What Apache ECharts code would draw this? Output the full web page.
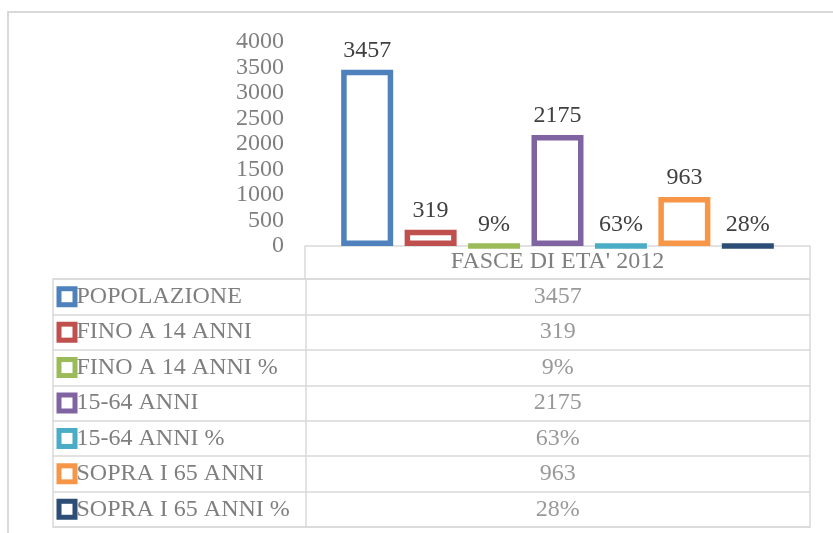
<!DOCTYPE html>
<html>
<head>
<meta charset="utf-8">
<script src="https://cdn.jsdelivr.net/npm/echarts@6/dist/echarts.min.js"></script>
<style>
html,body{margin:0;padding:0;background:#fff;}
#c{width:833px;height:533px;}
</style>
</head>
<body>
<div id="c"></div>
<script>
const category = ["FASCE DI ETA' 2012"];
const seriesNames = ['POPOLAZIONE','FINO A 14 ANNI','FINO A 14 ANNI %','15-64 ANNI','15-64 ANNI %','SOPRA I 65 ANNI','SOPRA I 65 ANNI %'];
const seriesValues = [3457, 319, 0.09, 2175, 0.63, 963, 0.28];
const isPercent = [false, false, true, false, true, false, true];
const colors = ['#4F81BD','#C0504D','#9BBB59','#8064A2','#4BACC6','#F79646','#2C4D75'];
const yTicks = {min: 0, max: 4000, interval: 500};

const FONT = 'Liberation Serif';
const FS = 24;
const fmt = (i) => isPercent[i] ? Math.round(seriesValues[i] * 100) + '%' : String(seriesValues[i]);

const barSeries = seriesNames.map((name, i) => ({
  name: name,
  type: 'bar',
  xAxisIndex: 0,
  yAxisIndex: 0,
  data: [seriesValues[i]],
  barWidth: 52,
  barGap: '22%',
  itemStyle: {color: '#ffffff', borderColor: colors[i], borderWidth: 5.5},
  label: {
    show: true, position: 'top', distance: 7,
    fontFamily: FONT, fontSize: FS, color: '#404040',
    formatter: () => fmt(i)
  },
  emphasis: {disabled: true},
  animation: false
}));

const rich = {t: {fontFamily: FONT, fontSize: FS, color: '#7f7f7f', padding: [0,0,0,4]}};
colors.forEach((c, i) => {
  rich['k' + i] = {width: 11, height: 11, backgroundColor: '#ffffff', borderColor: c, borderWidth: 5};
});

const tableSeries = {
  type: 'scatter',
  xAxisIndex: 1,
  yAxisIndex: 1,
  symbol: 'rect',
  symbolSize: 1,
  itemStyle: {color: 'transparent'},
  data: seriesNames.map((n, i) => [1, n]),
  label: {
    show: true, position: 'inside',
    fontFamily: FONT, fontSize: FS, color: '#7f7f7f',
    formatter: (p) => fmt(p.dataIndex)
  },
  emphasis: {disabled: true},
  animation: false
};

const chart = echarts.init(document.getElementById('c'), null, {renderer: 'canvas'});
chart.setOption({
  backgroundColor: '#ffffff',
  animation: false,
  textStyle: {fontFamily: FONT},
  graphic: [{
    type: 'rect', silent: true,
    shape: {x: 8, y: 12, width: 900, height: 600},
    style: {fill: 'none', stroke: '#d9d9d9', lineWidth: 2}
  }],
  grid: [
    {left: 305, right: 23, top: 42, bottom: 287, containLabel: false, outerBoundsMode: 'none'},
    {left: 53, right: 23, top: 279, bottom: 6, containLabel: false, outerBoundsMode: 'none', show: true, borderColor: '#d9d9d9', borderWidth: 1.5, backgroundColor: 'transparent'}
  ],
  xAxis: [
    {
      type: 'category', gridIndex: 0, data: category,
      axisLine: {show: true, lineStyle: {color: '#d9d9d9', width: 1.5}},
      axisTick: {show: true, length: 33, lineStyle: {color: '#d9d9d9', width: 1.5}},
      axisLabel: {fontFamily: FONT, fontSize: FS, color: '#7f7f7f', margin: 4}
    },
    {
      type: 'value', gridIndex: 1, min: -1, max: 2, show: false
    }
  ],
  yAxis: [
    {
      type: 'value', gridIndex: 0, min: yTicks.min, max: yTicks.max, interval: yTicks.interval,
      axisLine: {show: false}, axisTick: {show: false}, splitLine: {show: false},
      axisLabel: {fontFamily: FONT, fontSize: FS, color: '#7f7f7f', margin: 21, formatter: (v) => String(v)}
    },
    {
      type: 'category', gridIndex: 1, data: seriesNames, inverse: true,
      axisLine: {show: true, onZero: true, lineStyle: {color: '#d9d9d9', width: 1.5}},
      axisTick: {show: false},
      splitLine: {show: true, interval: 0, lineStyle: {color: '#d9d9d9', width: 1.5}},
      axisLabel: {
        interval: 0, align: 'left', margin: -8.5,
        formatter: (v, i) => '{k' + i + '|}{t|' + v + '}',
        rich: rich
      }
    }
  ],
  series: barSeries.concat([tableSeries])
});
</script>
</body>
</html>
